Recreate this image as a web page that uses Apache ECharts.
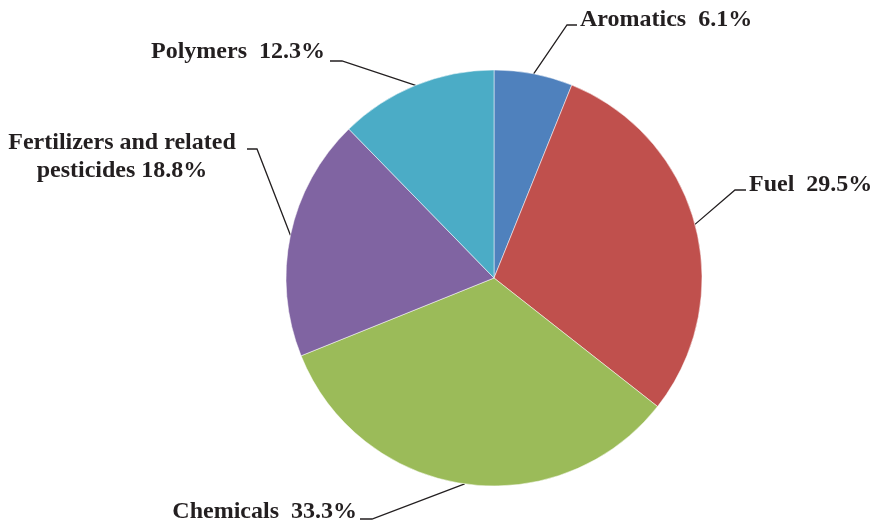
<!DOCTYPE html>
<html>
<head>
<meta charset="utf-8">
<script src="https://cdn.jsdelivr.net/npm/echarts@6/dist/echarts.min.js"></script>
<style>
  html, body { margin: 0; padding: 0; background: #fff; }
  #chart { width: 874px; height: 522px; }
</style>
</head>
<body>
<div id="chart"></div>
<script>
// slice data, clockwise from 12 o'clock
const categories = ['Aromatics', 'Fuel', 'Chemicals', 'Fertilizers and related\npesticides', 'Polymers'];
const shares = [6.1, 29.5, 33.3, 18.8, 12.3];
const colors = ['#4F81BD', '#C0504D', '#9BBB59', '#8064A2', '#4BACC6'];

// where each label sits: elbow of the leader line, end of the short tick, text anchor
const labelSpots = [
  { elbow: [567, 25], end: [577, 25], text: [580, 20], align: 'left' },
  { elbow: [735, 190], end: [746, 190], text: [749, 185], align: 'left' },
  { elbow: [372, 519], end: [360, 519], text: [357, 512], align: 'right' },
  { elbow: [257, 149], end: [247, 149], text: [122, 157], align: 'center' },
  { elbow: [342, 61], end: [330, 61], text: [325, 52], align: 'right' }
];

const center = [494, 278];
const radius = 208;

function edgePoint(idx) {
  const total = shares.reduce((a, b) => a + b, 0);
  let before = 0;
  for (let i = 0; i < idx; i++) before += shares[i];
  const ang = (before + shares[idx] / 2) / total * Math.PI * 2;
  return [center[0] + radius * Math.sin(ang), center[1] - radius * Math.cos(ang)];
}

const chart = echarts.init(document.getElementById('chart'));
chart.setOption({
  animation: false,
  series: [{
    type: 'pie',
    left: 0,
    top: 0,
    width: 1600,
    height: 522,
    center: center,
    radius: radius,
    startAngle: 90,
    clockwise: true,
    data: categories.map((c, i) => ({ name: c, value: shares[i], itemStyle: { color: colors[i] } })),
    itemStyle: { borderColor: '#fff', borderWidth: 0.5 },
    label: {
      show: true,
      position: 'outside',
      overflow: 'none',
      bleedMargin: -400,
      fontFamily: 'Liberation Serif, Times New Roman, serif',
      fontWeight: 'bold',
      fontSize: 24,
      lineHeight: 28,
      color: '#231F20',
      formatter: p => p.name.indexOf('\n') >= 0 ? p.name + ' ' + p.value + '%' : p.name + '  ' + p.value + '%'
    },
    labelLine: {
      show: true,
      lineStyle: { color: '#231F20', width: 1.3 }
    },
    labelLayout: function (params) {
      const s = labelSpots[params.dataIndex];
      const start = edgePoint(params.dataIndex);
      return {
        x: s.text[0],
        y: s.text[1],
        align: s.align,
        verticalAlign: 'middle',
        labelLinePoints: [start, s.elbow, s.end]
      };
    }
  }]
});
window.addEventListener('resize', function () { chart.resize(); });
</script>
</body>
</html>
